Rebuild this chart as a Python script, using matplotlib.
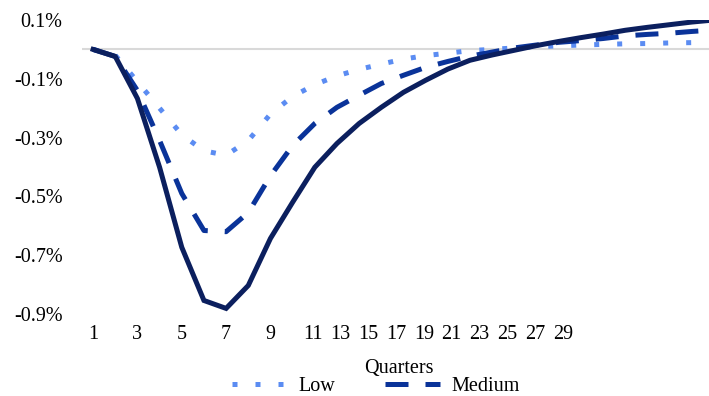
import matplotlib
matplotlib.use("Agg")
import matplotlib.pyplot as plt
import numpy as np

plt.rcParams['font.family'] = ['Liberation Serif', 'DejaVu Serif']

quarters = list(range(1, 30))
low = [0.0, -0.02, -0.11, -0.20, -0.29, -0.345, -0.36, -0.31, -0.22, -0.16,
       -0.12, -0.09, -0.068, -0.05, -0.033, -0.021, -0.013, -0.004, 0.0, 0.005,
       0.009, 0.012, 0.015, 0.017, 0.019, 0.020, 0.022, 0.023, 0.024]
medium = [0.0, -0.024, -0.14, -0.31, -0.49, -0.616, -0.62, -0.555, -0.43, -0.327,
          -0.252, -0.197, -0.156, -0.116, -0.088, -0.061, -0.041, -0.023, -0.009, 0.005,
          0.015, 0.024, 0.030, 0.037, 0.046, 0.051, 0.055, 0.061, 0.066]
high = [0.0, -0.024, -0.167, -0.401, -0.673, -0.854, -0.881, -0.803, -0.643, -0.520,
        -0.401, -0.320, -0.252, -0.197, -0.146, -0.105, -0.067, -0.037, -0.019, -0.003,
        0.013, 0.027, 0.040, 0.052, 0.065, 0.075, 0.084, 0.093, 0.100]
yticks = [0.1, -0.1, -0.3, -0.5, -0.7, -0.9]
xtick_labels = [str(v) for v in range(1, 30, 2)]

W, H = 709, 396
fig = plt.figure(figsize=(W / 100, H / 100), dpi=100)
ax = fig.add_axes([82 / W, (H - 314) / H, (W - 82) / W, (314 - 20) / H])

c_low = '#5b8cf2'
c_med = '#0a3399'
c_high = '#0b1f5e'

ax.axhline(0, color='#d9d9d9', lw=1.5, zorder=1)
ax.plot(quarters, low, color=c_low, lw=3.6, linestyle=(0, (1, 3.6)), label='Low', zorder=3)
ax.plot(quarters, medium, color=c_med, lw=3.6, linestyle=(0, (4.6, 3.4)), label='Medium', zorder=3)
ax.plot(quarters, high, color=c_high, lw=3.6, solid_joinstyle='miter', label='High', zorder=4)

ax.set_xlim(0.5, 0.5 + (W - 82) / 22.17)
ax.set_ylim(-0.9, 0.1)
ax.set_yticks(yticks)
ax.set_yticklabels([f'{v:.1f}%' for v in yticks])

# x tick labels: first ones at their category, later ones crowded
pos = [1, 3, 5, 7, 9] + [10.9 + 1.255 * k for k in range(10)]
ax.set_xticks(pos)
ax.set_xticklabels(xtick_labels)

for s in ax.spines.values():
    s.set_visible(False)
ax.tick_params(axis='both', length=0, labelsize=14.5, colors='black')
ax.tick_params(axis='y', pad=14)
ax.tick_params(axis='x', pad=8)

fig.text(399 / W, 1 - 369 / H, 'Quarters', ha='center', va='center', fontsize=14.5)

handles, labels = ax.get_legend_handles_labels()
fig.legend(handles[:2], labels[:2], loc='center', bbox_to_anchor=(376 / W, 1 - 386 / H),
           ncol=2, frameon=False, fontsize=14.5, handlelength=2.7, handletextpad=0.6,
           columnspacing=2.5, borderpad=0, borderaxespad=0)

fig.savefig('out.png', dpi=100)
